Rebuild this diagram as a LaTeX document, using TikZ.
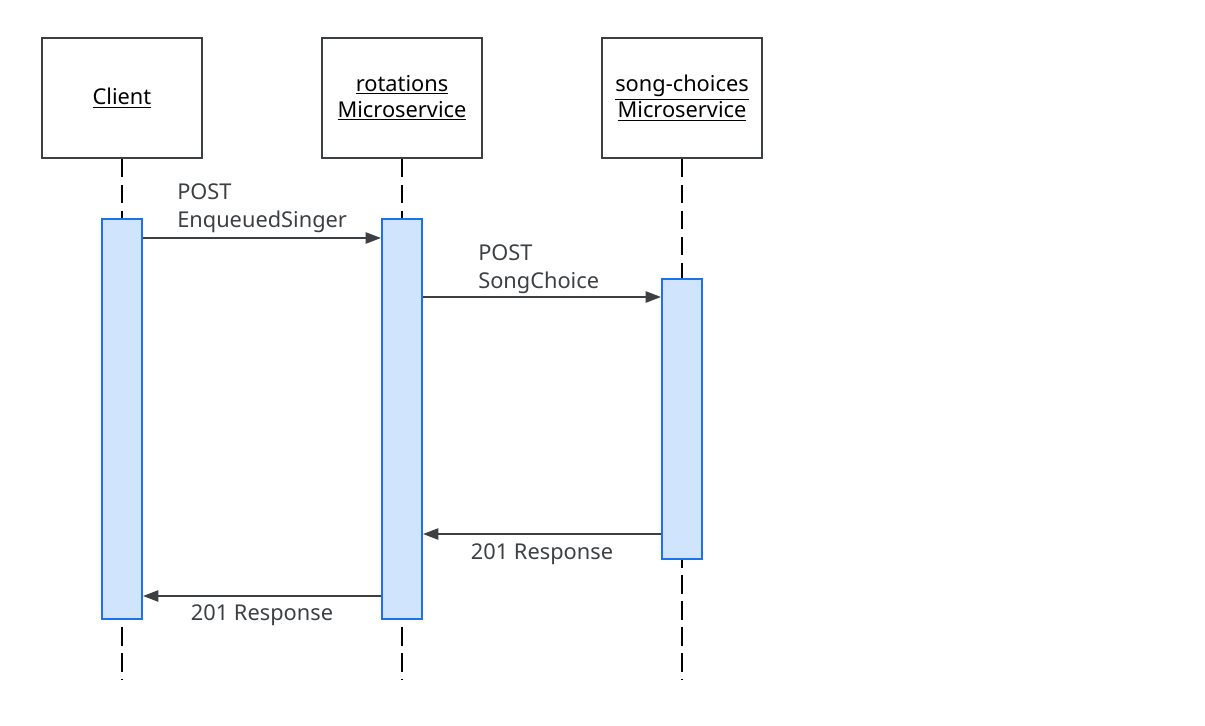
\documentclass[tikz,border=0pt]{standalone}
\usepackage{fontspec}
\setmainfont{Noto Sans}
\usetikzlibrary{positioning}
\usetikzlibrary{arrows.meta}
\usetikzlibrary{calc}

\definecolor{linegray}{HTML}{3C4043}
\definecolor{actblue}{HTML}{1A73E8}
\definecolor{actfill}{HTML}{D0E4FD}

\tikzset{
    actor/.style={draw=linegray, line width=1.4pt, minimum width=4cm, minimum height=3cm,
        align=center, font=\fontsize{15.5}{18.5}\selectfont},
    lifeline/.style={black, line width=1.5pt, dash pattern=on 13pt off 5.5pt},
    activation/.style={draw=actblue, fill=actfill, line width=1.4pt, minimum width=1cm, inner sep=0pt},
    msg/.style={linegray, line width=1.4pt, -{Triangle[length=11pt,width=8pt]}},
    msglabel/.style={text=linegray, align=left, inner sep=0pt, font=\fontsize{15.5}{20}\selectfont}
}

\begin{document}
\begin{tikzpicture}[x=0.025cm, y=-0.025cm]
                \useasboundingbox (0,0) rectangle (1205,725);
                % Define the actors
                \node[actor] (client) at (122,98) {\underline{Client}};
                \node[actor] (rot) at (402,98) {\underline{rotations}\\\underline{Microservice}};
                \node[actor] (song) at (682,98) {\underline{song-choices}\\\underline{Microservice}};

                % Lifelines
                \foreach \actor in {client, rot, song}
                    \coordinate (\actor end) at (\actor.south |- 0,680);
                \foreach \actor in {client, rot, song}
                    \draw[lifeline] (\actor.south) -- (\actor end);

                % Activation bars
                \node[activation, minimum height=10cm, anchor=north] (clientact) at (122,218) {};
                \node[activation, minimum height=10cm, anchor=north] (rotact) at (402,218) {};
                \node[activation, minimum height=7cm, anchor=north] (songact) at (682,278) {};

                % Messages
                \draw[msg] (clientact.east |- 0,238) -- (rotact.west |- 0,238);
                \draw[msg] (rotact.east |- 0,297) -- (songact.west |- 0,297);
                \draw[msg] (songact.west |- 0,534) -- (rotact.east |- 0,534);
                \draw[msg] (rotact.west |- 0,596) -- (clientact.east |- 0,596);

                \node[msglabel, anchor=north west] (enqlabel) at (177,183) {POST\\EnqueuedSinger};
                \node[msglabel, anchor=north west] (songlabel) at (478,244) {POST\\SongChoice};
                \node[msglabel] (resp1) at (542,554) {201 Response};
                \node[msglabel] (resp2) at (262,615) {201 Response};
            \end{tikzpicture}
\end{document}
